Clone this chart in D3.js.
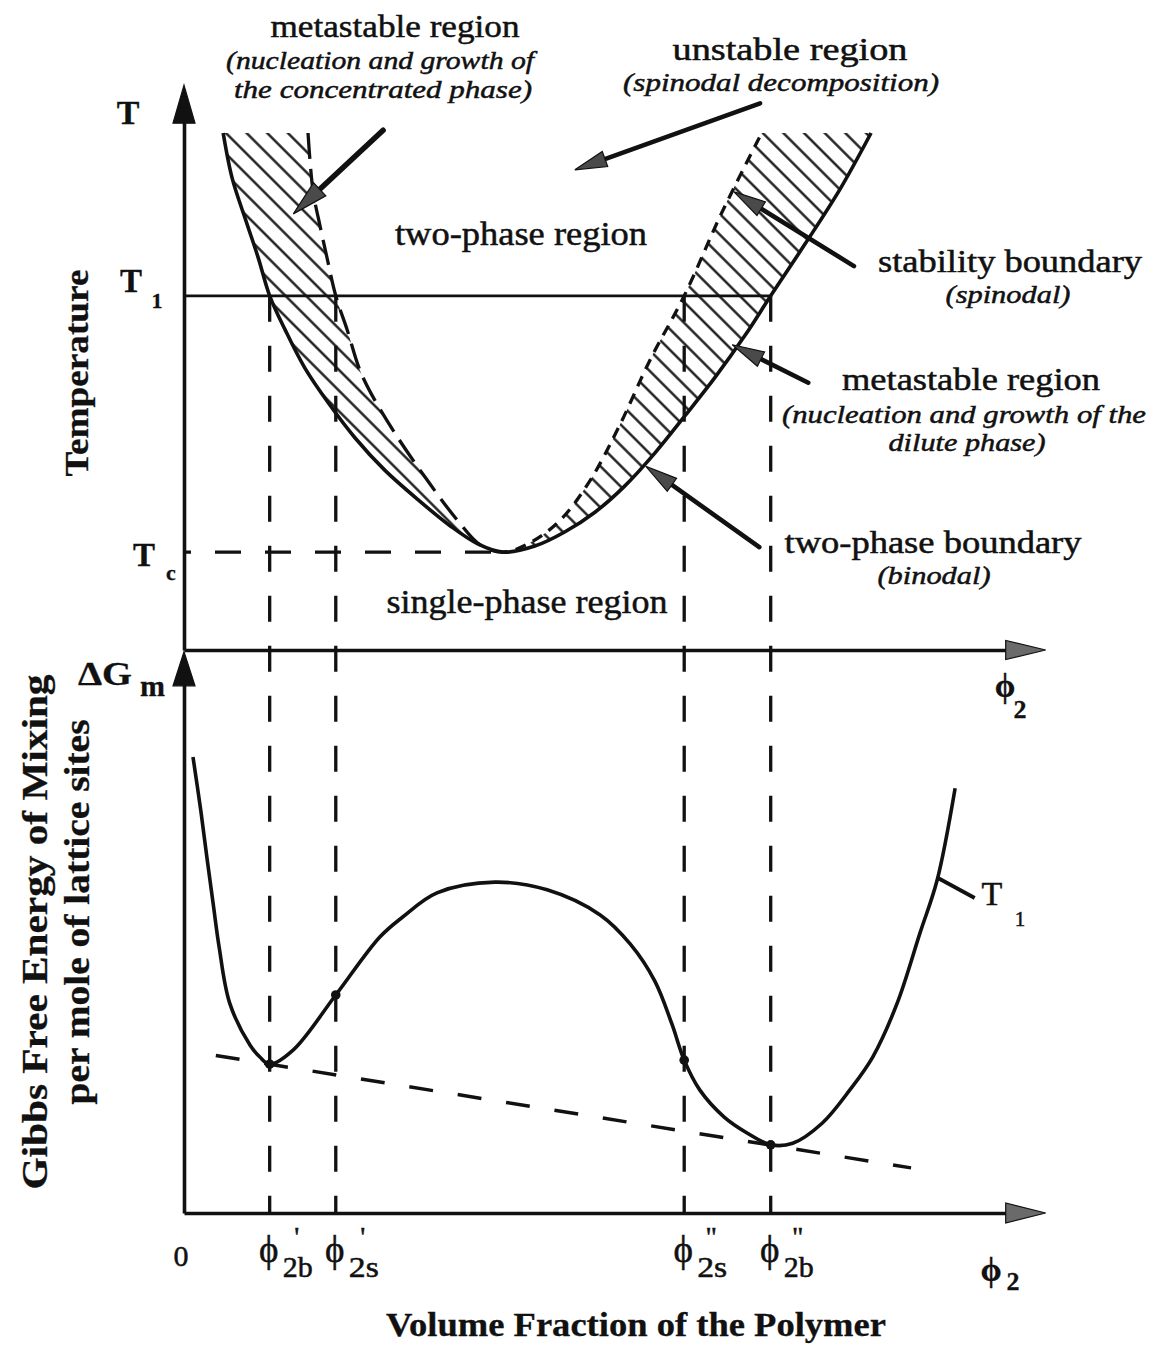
<!DOCTYPE html>
<html>
<head>
<meta charset="utf-8">
<title>Phase diagram of a polymer solution</title>
<script src="https://cdn.jsdelivr.net/npm/d3@7/dist/d3.min.js"></script>
<style>
  html, body { margin: 0; padding: 0; background: #fff; }
  svg { display: block; background: #fff; }
  text { font-family: "Liberation Serif", "Times New Roman", "DejaVu Serif", serif; fill: #111; }
</style>
</head>
<body>
<svg id="chart" width="1151" height="1346"></svg>
<script>
// ---------------------------------------------------------------------------
// Data (volume fraction of polymer phi2 in 0..1, temperature and free energy
// in relative units)
// ---------------------------------------------------------------------------

// characteristic compositions at T1: binodal ', spinodal ', spinodal ", binodal "
const markPhi    = [0.105, 0.186, 0.613, 0.719];
const markSub    = ["2b", "2s", "2s", "2b"];
const markPrime  = ["'", "'", "\"", "\""];

const phiCritical = 0.391;
const tempT1 = 0.644;
const tempTc = 0.178;

// two-phase boundary (binodal)
const binodalPhi = [0.048, 0.059, 0.076, 0.091, 0.105, 0.124, 0.148, 0.177, 0.210, 0.246, 0.287, 0.326,
                    0.360, 0.391, 0.430, 0.467, 0.504, 0.540, 0.577, 0.614, 0.651, 0.688, 0.719,
                    0.761, 0.804, 0.842];
const binodalT   = [0.940, 0.858, 0.780, 0.713, 0.644, 0.582, 0.513, 0.449, 0.385, 0.327, 0.273, 0.226,
                    0.193, 0.178, 0.189, 0.215, 0.251, 0.298, 0.358, 0.426, 0.496, 0.573, 0.644,
                    0.738, 0.838, 0.940];

// stability boundary (spinodal)
const spinodalPhi = [0.152, 0.158, 0.167, 0.175, 0.186, 0.200, 0.218, 0.256, 0.298, 0.335, 0.363,
                     0.391, 0.424, 0.461, 0.498, 0.534, 0.571, 0.613, 0.659, 0.708];
const spinodalT   = [0.940, 0.836, 0.769, 0.715, 0.644, 0.582, 0.500, 0.400, 0.309, 0.236, 0.191,
                     0.178, 0.195, 0.236, 0.309, 0.409, 0.527, 0.644, 0.795, 0.940];

// Gibbs free energy of mixing at T1
const gibbsPhi = [0.011, 0.020, 0.028, 0.036, 0.043, 0.056, 0.081, 0.093, 0.105, 0.134, 0.186, 0.240,
                  0.268, 0.310, 0.381, 0.445, 0.510, 0.547, 0.577, 0.598, 0.613, 0.632, 0.662, 0.690,
                  0.719, 0.746, 0.782, 0.816, 0.844, 0.874, 0.902, 0.923, 0.945];
const gibbsG   = [0.889, 0.791, 0.694, 0.600, 0.519, 0.409, 0.327, 0.304, 0.290, 0.318, 0.425, 0.538,
                  0.577, 0.624, 0.645, 0.630, 0.581, 0.524, 0.452, 0.368, 0.298, 0.240, 0.187, 0.156,
                  0.133, 0.136, 0.175, 0.240, 0.304, 0.409, 0.546, 0.649, 0.828];

// common tangent touching both minima
const tangentPhi = [0.039, 0.891];
const tangentG   = [0.307, 0.088];

// annotation pointers in the phase diagram: [phi, T] start and tip
const pointerFrom = [[0.244, 0.945], [0.706, 0.994], [0.821, 0.698], [0.765, 0.486], [0.705, 0.187]];
const pointerTo   = [[0.134, 0.793], [0.479, 0.873], [0.674, 0.833], [0.672, 0.555], [0.566, 0.334]];

// ---------------------------------------------------------------------------
// Scales and layout
// ---------------------------------------------------------------------------
const INK = "#111";
const svg = d3.select("#chart");
const defs = svg.append("defs");

const x  = d3.scaleLinear().domain([0, 1]).range([184, 1000]);
const yT = d3.scaleLinear().domain([0, 1]).range([650, 100]);
const yG = d3.scaleLinear().domain([0, 1]).range([1213, 700]);

const axisEnd = { phi: 1.056, T: 1.027, G: 1.094 };

// diagonal hatching for the metastable regions
const gap = 14.6;
const hatch = defs.append("pattern")
  .attr("id", "hatch")
  .attr("patternUnits", "userSpaceOnUse")
  .attr("width", gap).attr("height", gap)
  .attr("patternTransform", "rotate(-45)");
hatch.append("line")
  .attr("x1", gap / 2).attr("x2", gap / 2)
  .attr("y1", -2).attr("y2", gap + 2)
  .attr("stroke", INK).attr("stroke-width", 2.3);

// clip rectangles either side of the critical point
defs.append("clipPath").attr("id", "leftSide")
  .append("rect").attr("x", 0).attr("y", 0).attr("width", x(phiCritical)).attr("height", 700);
defs.append("clipPath").attr("id", "rightSide")
  .append("rect").attr("x", x(phiCritical)).attr("y", 0).attr("width", 1151 - x(phiCritical)).attr("height", 700);

// ---------------------------------------------------------------------------
// Helpers
// ---------------------------------------------------------------------------
function arrowHead(tip, dir, len, half, fill) {
  const n = Math.hypot(dir[0], dir[1]);
  const ux = dir[0] / n, uy = dir[1] / n;
  const bx = tip[0] - ux * len, by = tip[1] - uy * len;
  const pts = [tip, [bx - uy * half, by + ux * half], [bx + uy * half, by - ux * half]];
  svg.append("path")
    .attr("d", "M" + pts.map(p => p.join(",")).join("L") + "Z")
    .attr("fill", fill).attr("stroke", INK).attr("stroke-width", 1.2)
    .attr("stroke-linejoin", "miter");
}

function label(t, px, py, o = {}) {
  const el = svg.append("text")
    .attr("x", px).attr("y", py)
    .attr("font-size", o.size || 32)
    .attr("text-anchor", o.anchor || "middle")
    .attr("stroke", INK).attr("stroke-width", o.bold ? 0.3 : 0.5)
    .text(t);
  if (o.bold) el.attr("font-weight", "bold");
  if (o.italic) el.attr("font-style", "italic");
  if (o.len) el.attr("textLength", o.len).attr("lengthAdjust", "spacingAndGlyphs");
  if (o.rotate) el.attr("transform", `rotate(${o.rotate},${px},${py})`);
  return el;
}

// ---------------------------------------------------------------------------
// Axes
// ---------------------------------------------------------------------------
function axisLine(gen, tx, ty) {
  const g = svg.append("g")
    .attr("transform", `translate(${tx},${ty})`)
    .call(gen.tickValues([]).tickSizeOuter(0));
  g.select(".domain").attr("stroke", INK).attr("stroke-width", 3.6);
}

// temperature axis and phi axis of the phase diagram
axisLine(d3.axisLeft(yT.copy().domain([0, axisEnd.T - 0.04]).range([yT(0), yT(axisEnd.T - 0.04)])), x(0), 0);
axisLine(d3.axisBottom(x.copy().domain([0, axisEnd.phi - 0.04]).range([x(0), x(axisEnd.phi - 0.04)])), 0, yT(0));
// free energy axis and phi axis of the lower plot
axisLine(d3.axisLeft(yG.copy().domain([0, axisEnd.G - 0.05]).range([yG(0), yG(axisEnd.G - 0.05)])), x(0), 0);
axisLine(d3.axisBottom(x.copy().domain([0, axisEnd.phi - 0.04]).range([x(0), x(axisEnd.phi - 0.04)])), 0, yG(0));

// ---------------------------------------------------------------------------
// Phase diagram
// ---------------------------------------------------------------------------
const lineT = d3.line()
  .x(d => x(d[0])).y(d => yT(d[1]))
  .curve(d3.curveCatmullRom.alpha(0.5));

const binodal = d3.zip(binodalPhi, binodalT);
const spinodal = d3.zip(spinodalPhi, spinodalT);
const binodalD = lineT(binodal);
const spinodalD = lineT(spinodal);
const lobesD = binodalD + lineT(spinodal.slice().reverse()).replace(/^M/, "L") + "Z";

// hatched metastable lobes between binodal and spinodal
svg.append("path").attr("d", lobesD).attr("fill", "url(#hatch)").attr("stroke", "none");

// T1 isotherm
svg.append("line")
  .attr("x1", x(0)).attr("x2", x(markPhi[3]))
  .attr("y1", yT(tempT1)).attr("y2", yT(tempT1))
  .attr("stroke", INK).attr("stroke-width", 2.8);

// critical temperature guide
svg.append("line")
  .attr("x1", x(0)).attr("x2", x(phiCritical))
  .attr("y1", yT(tempTc)).attr("y2", yT(tempTc))
  .attr("stroke", INK).attr("stroke-width", 3.3)
  .attr("stroke-dasharray", "26,24").attr("stroke-dashoffset", 19);

// spinodal: long dashes on the left branch, short dashes on the right one
svg.append("path").attr("d", spinodalD).attr("clip-path", "url(#leftSide)")
  .attr("fill", "none").attr("stroke", INK).attr("stroke-width", 3.3)
  .attr("stroke-dasharray", "26,10");
svg.append("path").attr("d", spinodalD).attr("clip-path", "url(#rightSide)")
  .attr("fill", "none").attr("stroke", INK).attr("stroke-width", 3.3)
  .attr("stroke-dasharray", "11,8");

// binodal
svg.append("path").attr("d", binodalD)
  .attr("fill", "none").attr("stroke", INK).attr("stroke-width", 3.6)
  .attr("stroke-linejoin", "round");

// vertical guides from the T1 isotherm down to the lower axis
svg.selectAll("line.guide").data(markPhi).join("line")
  .attr("class", "guide")
  .attr("x1", d => x(d)).attr("x2", d => x(d))
  .attr("y1", yT(tempT1)).attr("y2", yG(0))
  .attr("stroke", INK).attr("stroke-width", 3.3)
  .attr("stroke-dasharray", "26,24");

// annotation pointers
pointerFrom.forEach((f, i) => {
  const a = [x(f[0]), yT(f[1])];
  const b = [x(pointerTo[i][0]), yT(pointerTo[i][1])];
  const dx = b[0] - a[0], dy = b[1] - a[1], n = Math.hypot(dx, dy);
  svg.append("line")
    .attr("x1", a[0]).attr("y1", a[1])
    .attr("x2", b[0] - dx / n * 20).attr("y2", b[1] - dy / n * 20)
    .attr("stroke", INK).attr("stroke-width", i === 0 ? 5.5 : 4.6)
    .attr("stroke-linecap", "round");
  arrowHead(b, [dx, dy], i === 0 ? 36 : 32, i === 0 ? 9 : 8, "#4a4a4a");
});

// ---------------------------------------------------------------------------
// Free energy of mixing at T1
// ---------------------------------------------------------------------------
const lineG = d3.line()
  .x(d => x(d[0])).y(d => yG(d[1]))
  .curve(d3.curveCatmullRom.alpha(0.5));

svg.append("path")
  .attr("d", lineG(d3.zip(tangentPhi, tangentG)))
  .attr("fill", "none").attr("stroke", INK).attr("stroke-width", 3.5)
  .attr("stroke-dasharray", "24,25");

svg.append("path")
  .attr("d", lineG(d3.zip(gibbsPhi, gibbsG)))
  .attr("fill", "none").attr("stroke", INK).attr("stroke-width", 3.6)
  .attr("stroke-linejoin", "round");

svg.selectAll("circle.mark").data(markPhi).join("circle")
  .attr("class", "mark")
  .attr("cx", d => x(d))
  .attr("cy", d => yG(gibbsG[gibbsPhi.indexOf(d)]))
  .attr("r", 4.8)
  .attr("fill", INK);

// T1 pointer on the free energy curve
svg.append("line")
  .attr("x1", x(0.924)).attr("y1", yG(0.653))
  .attr("x2", x(0.969)).attr("y2", yG(0.614))
  .attr("stroke", INK).attr("stroke-width", 3.8);

// axis arrowheads
arrowHead([x(0), yT(axisEnd.T)], [0, -1], 38, 11, INK);
arrowHead([x(axisEnd.phi), yT(0)], [1, 0], 40, 9.5, "#6a6a6a");
arrowHead([x(0), yG(axisEnd.G)], [0, -1], 34, 11, INK);
arrowHead([x(axisEnd.phi), yG(0)], [1, 0], 40, 10, "#6a6a6a");

// ---------------------------------------------------------------------------
// Text
// ---------------------------------------------------------------------------
label("metastable region", 395, 37, { size: 32, len: 249 });
label("(nucleation and growth of", 380, 69, { size: 26, italic: true, len: 308 });
label("the concentrated phase)", 383, 98, { size: 26, italic: true, len: 298 });

label("unstable region", 790, 60, { size: 31, len: 235 });
label("(spinodal decomposition)", 781, 91, { size: 26, italic: true, len: 316 });

label("two-phase region", 521, 245, { size: 34, len: 252 });
label("single-phase region", 527, 613, { size: 34, len: 281 });

label("stability boundary", 1010, 272, { size: 31, len: 264 });
label("(spinodal)", 1008, 303, { size: 26, italic: true, len: 125 });

label("metastable region", 971, 390, { size: 31, len: 258 });
label("(nucleation and growth of the", 964, 423, { size: 26, italic: true, len: 364 });
label("dilute phase)", 967, 451, { size: 26, italic: true, len: 157 });

label("two-phase boundary", 933, 553, { size: 31, len: 297 });
label("(binodal)", 934, 584, { size: 26, italic: true, len: 113 });

// axis symbols
label("T", 128, 124, { size: 34, bold: true });
label("T", 131, 292, { size: 33, bold: true });
label("1", 157, 308, { size: 22, bold: true });
label("T", 144, 566, { size: 33, bold: true });
label("c", 171, 580, { size: 22, bold: true });

label("ϕ", 1005, 697, { size: 33, bold: true });
label("2", 1020, 718, { size: 26, bold: true });

label("ΔG", 78, 685, { size: 33, bold: true, anchor: "start", len: 54 });
label("m", 140, 696, { size: 30, bold: true, anchor: "start" });

label("0", 181, 1266, { size: 30 });
markPhi.forEach((p, i) => {
  const cx = x(p);
  label("ϕ", cx - 1, 1262, { size: 37 });
  label(markSub[i], cx + 13, 1277, { size: 29, anchor: "start", len: 30 });
  label(markPrime[i], cx + 27, 1246, { size: 28 });
});
label("ϕ", 991, 1281, { size: 34, bold: true });
label("2", 1013, 1290, { size: 26, bold: true });

label("T", 992, 905, { size: 34 });
label("1", 1020, 926, { size: 21 });

// axis titles
label("Temperature", 88, 373, { size: 34, bold: true, len: 207, rotate: -90 });
label("Gibbs Free Energy of Mixing", 47, 932, { size: 36, bold: true, len: 515, rotate: -90 });
label("per mole of lattice sites", 89, 912, { size: 36, bold: true, len: 385, rotate: -90 });
label("Volume Fraction of the Polymer", 636, 1336, { size: 33, bold: true, len: 500 });
</script>
</body>
</html>
